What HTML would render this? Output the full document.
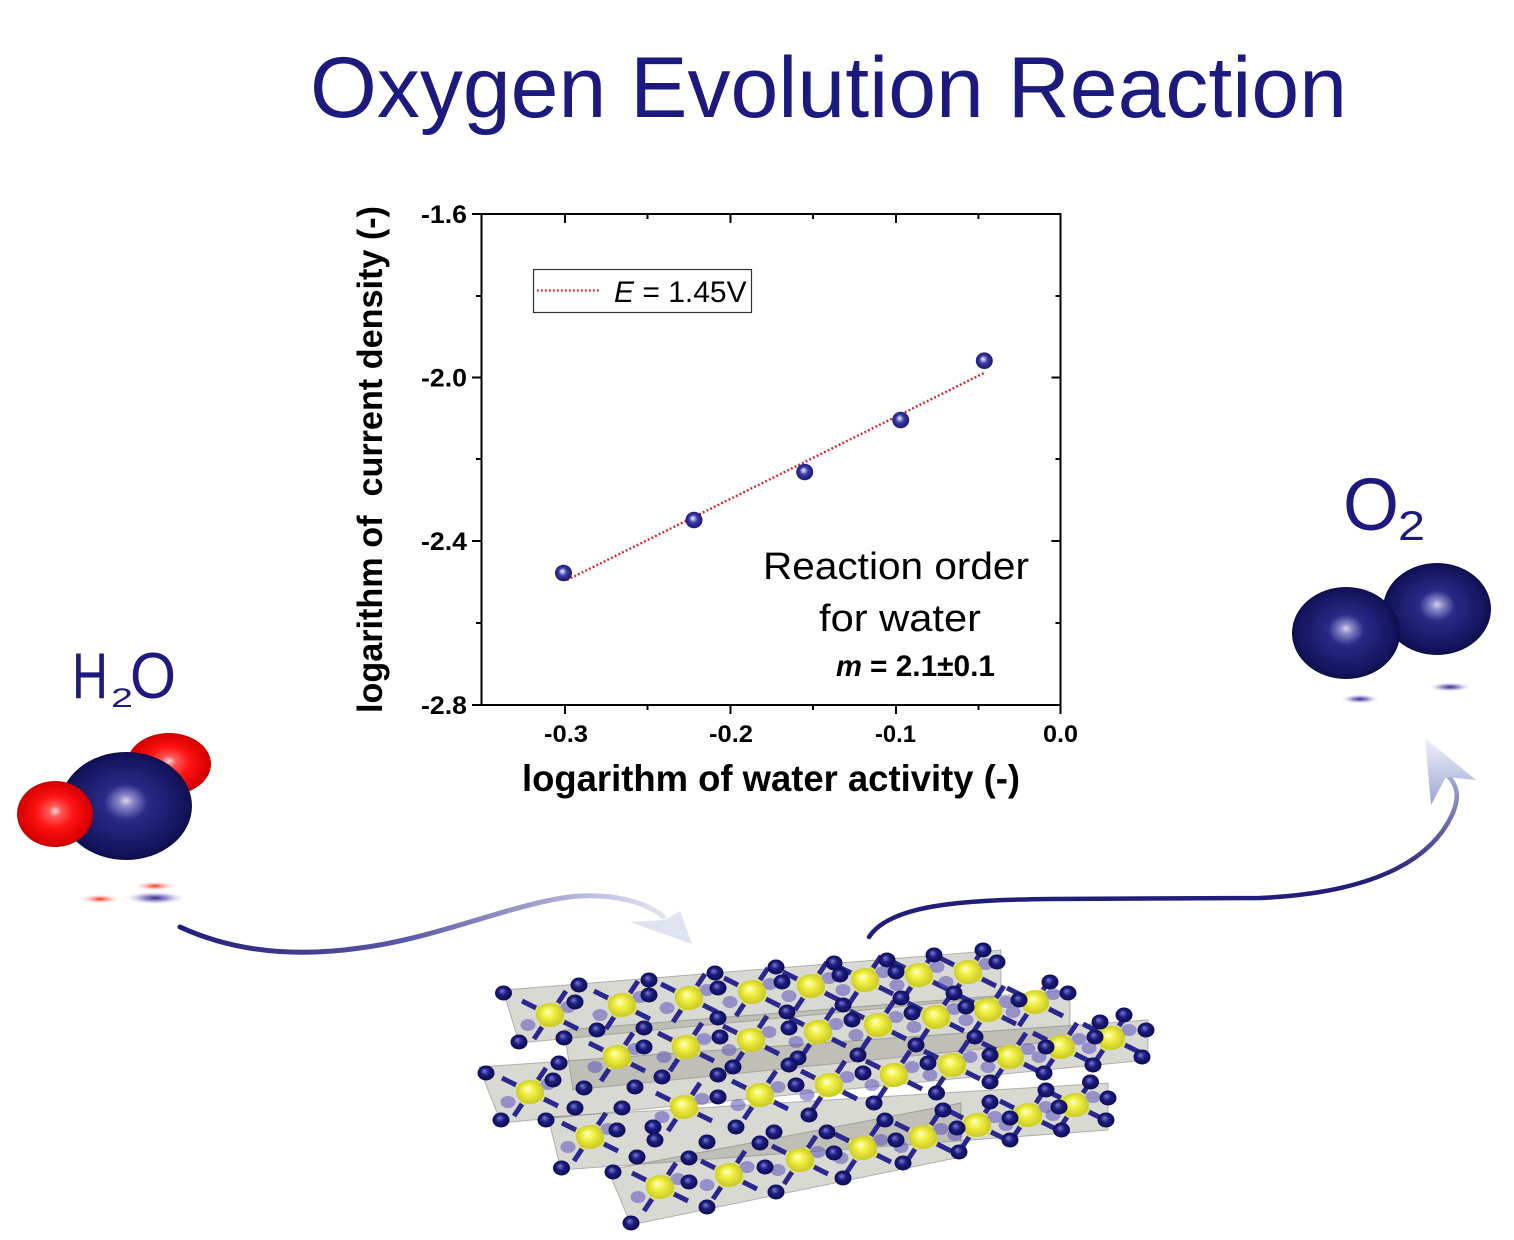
<!DOCTYPE html>
<html><head><meta charset="utf-8"><style>
html,body{margin:0;padding:0;background:#fff;width:1514px;height:1240px;overflow:hidden}
svg{display:block;font-family:"Liberation Sans",sans-serif}
</style></head><body>
<svg width="1514" height="1240" viewBox="0 0 1514 1240" xmlns="http://www.w3.org/2000/svg">
<defs>
<radialGradient id="gp" cx="0.5" cy="0.5" r="0.55" fx="0.42" fy="0.38"><stop offset="0" stop-color="#ffffff"/><stop offset="0.15" stop-color="#b8b8ec"/><stop offset="0.45" stop-color="#3a3aa6"/><stop offset="1" stop-color="#141466"/></radialGradient>
<radialGradient id="gbig" cx="0.5" cy="0.5" r="0.55" fx="0.5" fy="0.45"><stop offset="0" stop-color="#dcd4ea"/><stop offset="0.1" stop-color="#8a88c8"/><stop offset="0.3" stop-color="#2a2a88"/><stop offset="0.8" stop-color="#14145e"/><stop offset="1" stop-color="#0a0a3c"/></radialGradient>
<radialGradient id="gred" cx="0.5" cy="0.5" r="0.55" fx="0.5" fy="0.45"><stop offset="0" stop-color="#ffdcdc"/><stop offset="0.15" stop-color="#ff5a5a"/><stop offset="0.45" stop-color="#ff1212"/><stop offset="0.85" stop-color="#d80000"/><stop offset="1" stop-color="#a00000"/></radialGradient>
<radialGradient id="gsb"><stop offset="0" stop-color="#2a1a80" stop-opacity="0.95"/><stop offset="0.4" stop-color="#5a50b0" stop-opacity="0.6"/><stop offset="1" stop-color="#ffffff" stop-opacity="0"/></radialGradient>
<radialGradient id="gsr"><stop offset="0" stop-color="#ff2000" stop-opacity="0.95"/><stop offset="0.4" stop-color="#ff6050" stop-opacity="0.5"/><stop offset="1" stop-color="#ffffff" stop-opacity="0"/></radialGradient>
<radialGradient id="gy" cx="0.5" cy="0.5" r="0.55" fx="0.4" fy="0.35"><stop offset="0" stop-color="#ffffd8"/><stop offset="0.35" stop-color="#f2f248"/><stop offset="1" stop-color="#c4c41c"/></radialGradient>
<radialGradient id="gn" cx="0.5" cy="0.5" r="0.55" fx="0.4" fy="0.35"><stop offset="0" stop-color="#7c7cd0"/><stop offset="0.45" stop-color="#1c1c80"/><stop offset="1" stop-color="#0a0a4c"/></radialGradient>
<linearGradient id="ga1" gradientUnits="userSpaceOnUse" x1="180" y1="0" x2="680" y2="0"><stop offset="0" stop-color="#201e78"/><stop offset="0.45" stop-color="#5a5aa8"/><stop offset="1" stop-color="#eceef6"/></linearGradient>
<linearGradient id="ga2" gradientUnits="userSpaceOnUse" x1="0" y1="880" x2="0" y2="765"><stop offset="0" stop-color="#201e78"/><stop offset="1" stop-color="#b4bce0"/></linearGradient>
<linearGradient id="gh2" gradientUnits="userSpaceOnUse" x1="0" y1="740" x2="0" y2="806"><stop offset="0" stop-color="#eef0f8"/><stop offset="1" stop-color="#9aa4d4"/></linearGradient>
<g id="oct">
<ellipse cx="-22" cy="10" rx="7.5" ry="6" fill="#5c54bc" opacity="0.55"/>
<ellipse cx="18" cy="-8" rx="7.5" ry="6" fill="#5c54bc" opacity="0.55"/>
<path d="M0,0L-28,-14M0,0L28,14M0,0L16,-24M0,0L-16,24" stroke="#2a2890" stroke-width="5"/>
<path d="M0,0L-14,-7M0,0L14,7M0,0L8,-12M0,0L-8,12" stroke="#e4e45a" stroke-width="5"/>
<ellipse cx="0" cy="0" rx="14" ry="12" fill="url(#gy)"/>
</g>
<ellipse id="n" cx="0" cy="0" rx="8.5" ry="7.5" fill="url(#gn)"/>
</defs>

<!-- Title -->
<text x="310" y="117" font-size="86" textLength="1037" lengthAdjust="spacingAndGlyphs" fill="#1d1a7f">Oxygen Evolution Reaction</text>

<!-- Plot frame -->
<rect x="481.5" y="214" width="579" height="491" fill="none" stroke="#000" stroke-width="2"/>
<path stroke="#000" stroke-width="2" fill="none" d="
M472,214H481.5 M472,377.5H481.5 M472,541H481.5 M472,705H481.5
M476,296H481.5 M476,459H481.5 M476,623H481.5
M565,705V714 M730.5,705V714 M896,705V714 M1060.5,705V714
M647.5,705V710 M813,705V710 M978.5,705V710
M565,214V223 M730.5,214V223 M896,214V223
M647.5,214V219 M813,214V219 M978.5,214V219
M1051.5,377.5H1060.5 M1051.5,541H1060.5
M1055.5,296H1060.5 M1055.5,459H1060.5 M1055.5,623H1060.5"/>

<!-- Y tick labels -->
<g font-size="25" font-weight="bold" text-anchor="end" fill="#000">
<text x="467" y="223" textLength="46" lengthAdjust="spacingAndGlyphs">-1.6</text>
<text x="467" y="386.5" textLength="46" lengthAdjust="spacingAndGlyphs">-2.0</text>
<text x="467" y="550" textLength="46" lengthAdjust="spacingAndGlyphs">-2.4</text>
<text x="467" y="714" textLength="46" lengthAdjust="spacingAndGlyphs">-2.8</text>
</g>
<!-- X tick labels -->
<g font-size="24" font-weight="bold" fill="#000">
<text x="544" y="742" textLength="44" lengthAdjust="spacingAndGlyphs">-0.3</text>
<text x="709" y="742" textLength="44" lengthAdjust="spacingAndGlyphs">-0.2</text>
<text x="875" y="742" textLength="41" lengthAdjust="spacingAndGlyphs">-0.1</text>
<text x="1043" y="742" textLength="35" lengthAdjust="spacingAndGlyphs">0.0</text>
</g>
<!-- Axis titles -->
<text x="522" y="791" font-size="37" font-weight="bold" textLength="498" lengthAdjust="spacingAndGlyphs">logarithm of water activity (-)</text>
<text transform="translate(382,713) rotate(-90)" x="0" y="0" font-size="35" font-weight="bold" textLength="507" lengthAdjust="spacingAndGlyphs" style="white-space:pre">logarithm of  current density (-)</text>

<!-- Legend -->
<rect x="533.5" y="269.5" width="218" height="43" fill="#fff" stroke="#333" stroke-width="1.2"/>
<line x1="537" y1="290.5" x2="601" y2="290.5" stroke="#e01a1a" stroke-width="2.2" stroke-dasharray="1.7 2.3"/>
<text x="614" y="302" font-size="30" fill="#000"><tspan font-style="italic">E</tspan> = 1.45V</text>

<!-- Fit line -->
<line x1="567" y1="580" x2="984" y2="373" stroke="#e01a1a" stroke-width="2.4" stroke-dasharray="1.8 2.3"/>
<!-- Data points -->
<ellipse cx="563.5" cy="573" rx="8.5" ry="8.3" fill="url(#gp)"/>
<ellipse cx="694" cy="520" rx="8.5" ry="8.3" fill="url(#gp)"/>
<ellipse cx="804.7" cy="472" rx="8.5" ry="8.3" fill="url(#gp)"/>
<ellipse cx="900.7" cy="420" rx="8.5" ry="8.3" fill="url(#gp)"/>
<ellipse cx="984.3" cy="360.7" rx="8.5" ry="8.3" fill="url(#gp)"/>

<!-- Annotation -->
<text x="763" y="579" font-size="38" textLength="266" lengthAdjust="spacingAndGlyphs" fill="#000">Reaction order</text>
<text x="819" y="631" font-size="38" textLength="162" lengthAdjust="spacingAndGlyphs" fill="#000">for water</text>
<text x="836" y="676" font-size="30" font-weight="bold" font-style="italic" textLength="26" lengthAdjust="spacingAndGlyphs">m</text>
<text x="870" y="676" font-size="30" font-weight="bold" textLength="125" lengthAdjust="spacingAndGlyphs">= 2.1±0.1</text>

<!-- H2O label -->
<g fill="#1d1a7f">
<text x="72" y="698" font-size="65" textLength="36" lengthAdjust="spacingAndGlyphs">H</text>
<text x="111" y="707" font-size="27" textLength="22" lengthAdjust="spacingAndGlyphs">2</text>
<text x="130" y="698" font-size="65" textLength="46" lengthAdjust="spacingAndGlyphs">O</text>
</g>
<!-- H2O molecule -->
<ellipse cx="169" cy="764" rx="42" ry="31" fill="url(#gred)"/>
<ellipse cx="126" cy="806" rx="66" ry="54" fill="url(#gbig)"/>
<ellipse cx="55" cy="814" rx="38" ry="33" fill="url(#gred)"/>
<ellipse cx="100" cy="899" rx="22" ry="5" fill="url(#gsr)"/>
<ellipse cx="155" cy="886" rx="22" ry="5" fill="url(#gsr)"/>
<ellipse cx="155" cy="898" rx="32" ry="7" fill="url(#gsb)"/>

<!-- O2 label -->
<g fill="#1d1a7f">
<text x="1343" y="530" font-size="74" textLength="56" lengthAdjust="spacingAndGlyphs">O</text>
<text x="1398" y="540" font-size="42" textLength="27" lengthAdjust="spacingAndGlyphs">2</text>
</g>
<!-- O2 molecule -->
<ellipse cx="1437" cy="609" rx="54" ry="46" fill="url(#gbig)"/>
<ellipse cx="1346" cy="633" rx="54" ry="46" fill="url(#gbig)"/>
<ellipse cx="1360" cy="699" rx="20" ry="5" fill="url(#gsb)"/>
<ellipse cx="1450" cy="687" rx="22" ry="5" fill="url(#gsb)"/>

<!-- Arrows -->
<path d="M180,927 C230,950 290,958 360,948 C440,938 520,900 580,896 C620,894 648,904 664,917" fill="none" stroke="url(#ga1)" stroke-width="5" stroke-linecap="round"/>
<polygon points="692,944 630,922 665,920 680,911" fill="#dfe3f0"/>
<path d="M869,937 C890,905 960,900 1050,899 L1260,898 C1370,893 1430,862 1452,815 C1460,797 1458,785 1446,774" fill="none" stroke="url(#ga2)" stroke-width="4.5" stroke-linecap="round"/>
<polygon points="1425,738 1476,780 1446,777 1431,805" fill="url(#gh2)"/>

<!-- Crystal structure: slabs -->
<g fill="#8c8c7c" fill-opacity="0.33" stroke="#6a6a60" stroke-opacity="0.45" stroke-width="1">
<polygon points="503,990 1001,950 1001,997 519,1043"/>
<polygon points="564,1030 1070,990 1070,1040 573,1090"/>
<polygon points="479,1067 1148,1020 1148,1060 501,1123"/>
<polygon points="548,1117 1108,1083 1108,1130 561,1170"/>
<polygon points="608,1170 961,1103 961,1157 631,1225"/>
</g>
<!-- Octahedra -->
<g>
<use href="#oct" x="550" y="1015"/><use href="#oct" x="622" y="1005"/><use href="#oct" x="689" y="998"/><use href="#oct" x="752" y="992"/><use href="#oct" x="811" y="986"/><use href="#oct" x="865" y="980"/><use href="#oct" x="919" y="975"/><use href="#oct" x="968" y="972"/>
<use href="#oct" x="617" y="1057"/><use href="#oct" x="686" y="1047"/><use href="#oct" x="751" y="1040"/><use href="#oct" x="818" y="1032"/><use href="#oct" x="878" y="1025"/><use href="#oct" x="936" y="1017"/><use href="#oct" x="988" y="1010"/><use href="#oct" x="1035" y="1002"/>
<use href="#oct" x="530" y="1092"/><use href="#oct" x="684" y="1107"/><use href="#oct" x="760" y="1095"/><use href="#oct" x="829" y="1085"/><use href="#oct" x="894" y="1075"/><use href="#oct" x="952" y="1065"/><use href="#oct" x="1010" y="1057"/><use href="#oct" x="1061" y="1047"/><use href="#oct" x="1111" y="1038"/>
<use href="#oct" x="590" y="1137"/><use href="#oct" x="660" y="1187"/><use href="#oct" x="729" y="1175"/><use href="#oct" x="800" y="1160"/><use href="#oct" x="863" y="1148"/><use href="#oct" x="923" y="1137"/><use href="#oct" x="977" y="1125"/><use href="#oct" x="1028" y="1115"/><use href="#oct" x="1075" y="1105"/>
</g>
<!-- Oxygen atoms -->
<g>
<use href="#n" x="503.5" y="993"/><use href="#n" x="519" y="1042"/><use href="#n" x="579" y="985"/><use href="#n" x="575" y="1002"/><use href="#n" x="649" y="980"/><use href="#n" x="649" y="995"/><use href="#n" x="597" y="1030"/><use href="#n" x="644" y="1028"/><use href="#n" x="644" y="1047"/><use href="#n" x="564" y="1038"/>
<use href="#n" x="715" y="973"/><use href="#n" x="718" y="988"/><use href="#n" x="776" y="967"/><use href="#n" x="782" y="982"/><use href="#n" x="834" y="963"/><use href="#n" x="840" y="975"/><use href="#n" x="887" y="960"/><use href="#n" x="896" y="972"/><use href="#n" x="934" y="955"/><use href="#n" x="983" y="950"/><use href="#n" x="997" y="962"/>
<use href="#n" x="718" y="1018"/><use href="#n" x="720" y="1037"/><use href="#n" x="787" y="1012"/><use href="#n" x="789" y="1028"/><use href="#n" x="852" y="1020"/><use href="#n" x="843" y="1005"/><use href="#n" x="901" y="998"/><use href="#n" x="912" y="1013"/><use href="#n" x="954" y="993"/><use href="#n" x="966" y="1007"/><use href="#n" x="1019" y="1000"/><use href="#n" x="1068" y="993"/><use href="#n" x="1050" y="982"/>
<use href="#n" x="1100" y="1022"/><use href="#n" x="1124" y="1015"/><use href="#n" x="1146" y="1030"/><use href="#n" x="1095" y="1037"/><use href="#n" x="1142" y="1057"/><use href="#n" x="1093" y="1065"/><use href="#n" x="1046" y="1047"/><use href="#n" x="1044" y="1073"/><use href="#n" x="990" y="1055"/><use href="#n" x="990" y="1082"/><use href="#n" x="975" y="1037"/>
<use href="#n" x="916" y="1045"/><use href="#n" x="928" y="1063"/><use href="#n" x="858" y="1055"/><use href="#n" x="863" y="1073"/><use href="#n" x="798" y="1058"/><use href="#n" x="789" y="1065"/><use href="#n" x="796" y="1085"/><use href="#n" x="733" y="1067"/><use href="#n" x="718" y="1075"/><use href="#n" x="718" y="1097"/>
<use href="#n" x="662" y="1077"/><use href="#n" x="635" y="1087"/><use href="#n" x="584" y="1088"/><use href="#n" x="553" y="1080"/><use href="#n" x="559" y="1063"/><use href="#n" x="486" y="1073"/><use href="#n" x="501" y="1120"/><use href="#n" x="575" y="1108"/><use href="#n" x="622" y="1108"/><use href="#n" x="653" y="1127"/><use href="#n" x="617" y="1130"/><use href="#n" x="546" y="1120"/>
<use href="#n" x="561.5" y="1168"/><use href="#n" x="637" y="1157"/><use href="#n" x="655" y="1140"/><use href="#n" x="707" y="1142"/><use href="#n" x="736" y="1127"/><use href="#n" x="760" y="1143"/><use href="#n" x="774" y="1132"/><use href="#n" x="809" y="1115"/><use href="#n" x="827" y="1132"/><use href="#n" x="834" y="1153"/>
<use href="#n" x="874" y="1103"/><use href="#n" x="885" y="1120"/><use href="#n" x="896" y="1140"/><use href="#n" x="936.5" y="1093"/><use href="#n" x="943" y="1110"/><use href="#n" x="957" y="1128"/><use href="#n" x="990" y="1102"/><use href="#n" x="1010" y="1118"/><use href="#n" x="1010" y="1140"/><use href="#n" x="1046" y="1090"/><use href="#n" x="1059" y="1107"/><use href="#n" x="1061.5" y="1130"/><use href="#n" x="1090.5" y="1082"/><use href="#n" x="1108" y="1098"/><use href="#n" x="1106" y="1120"/>
<use href="#n" x="903" y="1163"/><use href="#n" x="959" y="1152"/><use href="#n" x="843" y="1178"/><use href="#n" x="776" y="1192"/><use href="#n" x="765" y="1167"/><use href="#n" x="707" y="1207"/><use href="#n" x="689" y="1158"/><use href="#n" x="689" y="1182"/><use href="#n" x="613" y="1172"/><use href="#n" x="631" y="1223"/>
</g>
</svg>
</body></html>
